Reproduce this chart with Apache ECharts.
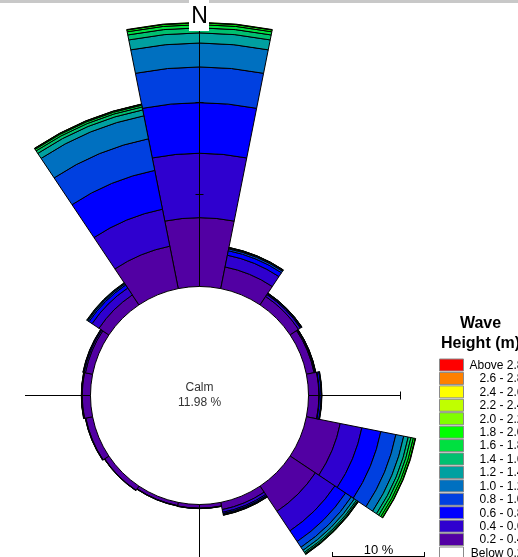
<!DOCTYPE html>
<html><head><meta charset="utf-8">
<script src="https://cdn.jsdelivr.net/npm/echarts@6/dist/echarts.min.js"></script>
<style>html,body{margin:0;padding:0;background:#fff;overflow:hidden}#c{width:518px;height:557px}</style>
</head><body><div id="c"></div>
<script>
// ---- data ----
const directions = ['N','NNE','NE','ENE','E','ESE','SE','SSE','S','SSW','SW','WSW','W','WNW','NW','NNW'];
const binLabels = ['0.2 - 0.4','0.4 - 0.6','0.6 - 0.8','0.8 - 1.0','1.0 - 1.2','1.2 - 1.4','1.4 - 1.6','1.6 - 1.8','1.8 - 2.0','2.0 - 2.2','2.2 - 2.4','2.4 - 2.6','2.6 - 2.8','Above 2.8'];
const belowLabel = 'Below 0.2';
// percent frequency per direction (N ... NNW)
const h02_04 = [7.48, 2.40, 1.10, 0.85, 1.13, 3.75, 3.30, 0.80, 0.40, 0.36, 0.55, 0.75, 0.90, 0.80, 1.30, 4.70];
const h04_06 = [7.00, 1.30, 0.25, 0.10, 0.05, 2.40, 2.55, 0.30, 0.03, 0.03, 0.03, 0.05, 0.05, 0.15, 0.90, 4.10];
const h06_08 = [5.50, 0.50, 0.10, 0.05, 0.20, 2.10, 1.40, 0.15, 0.02, 0.02, 0.02, 0.02, 0.03, 0.10, 0.40, 4.30];
const h08_10 = [3.88, 0.20, 0.05, 0.03, 0.05, 1.67, 0.75, 0.10, null, null, null, null, 0.02, 0.03, 0.15, 3.50];
const h10_12 = [2.60, 0.10, 0.03, 0.02, 0.03, 0.87, 0.40, 0.05, null, null, null, null, null, null, 0.10, 2.55];
const h12_14 = [1.10, 0.05, 0.02, null, null, 0.50, 0.27, 0.03, null, null, null, null, null, null, 0.05, 0.65];
const h14_16 = [0.55, 0.02, null, null, null, 0.30, 0.15, null, null, null, null, null, null, null, null, 0.33];
const h16_18 = [0.35, null, null, null, null, 0.27, 0.08, null, null, null, null, null, null, null, null, 0.20];
const h18_20 = [0.20, null, null, null, null, 0.20, 0.04, null, null, null, null, null, null, null, null, 0.10];
const h20_22 = [0.05, null, null, null, null, 0.05, null, null, null, null, null, null, null, null, null, 0.03];
const h22_24 = [null, null, null, null, null, null, null, null, null, null, null, null, null, null, null, null];
const h24_26 = [null, null, null, null, null, null, null, null, null, null, null, null, null, null, null, null];
const h26_28 = [null, null, null, null, null, null, null, null, null, null, null, null, null, null, null, null];
const h28_up = [null, null, null, null, null, null, null, null, null, null, null, null, null, null, null, null];
const calmPct = '11.98 %';
const scaleTick = 10; // percent

// ---- style ----
const binColors = ['#5200a3','#2f00cf','#0000ff','#0040e0','#0070c0','#00a0a0','#00c070','#00e040','#00ff00','#80ff00','#c0ff00','#ffff00','#ff8000','#ff0000'];
const binData = [h02_04,h04_06,h06_08,h08_10,h10_12,h12_14,h14_16,h16_18,h18_20,h20_22,h22_24,h24_26,h26_28,h28_up];
const cx = 199.5, cy = 395.5, r0 = 109, pxPerPct = 9.2, maxPct = 30;
const font = '"Liberation Sans", Arial, sans-serif';

const chart = echarts.init(document.getElementById('c'), null, {renderer:'canvas'});

const series = binData.map((d, i) => ({
  type:'bar', coordinateSystem:'polar', stack:'wave', name:binLabels[i], data:d,
  barCategoryGap:'0%', silent:true, animation:false,
  itemStyle:{color:binColors[i], borderColor:'#000', borderWidth:1}
}));

const tickR = k => r0 + scaleTick * k * pxPerPct;
const L = (x1,y1,x2,y2) => ({type:'line', z:100, silent:true, shape:{x1,y1,x2,y2}, style:{stroke:'#000', lineWidth:1}});

const g = [];
g.push({type:'rect', z:90, shape:{x:0,y:0,width:518,height:3}, style:{fill:'#c8c8c8'}});
// cross axes
g.push(L(cx, 30, cx, cy - r0));
g.push(L(cx, cy + r0, cx, 557));
g.push(L(25, cy, cx - r0, cy));
g.push(L(cx + r0, cy, cx + tickR(1), cy));
[1,2].forEach(k => g.push(L(cx - 4, cy - tickR(k), cx + 4, cy - tickR(k))));
g.push(L(cx + tickR(1), cy - 4, cx + tickR(1), cy + 4));
// N label
g.push({type:'rect', z:110, shape:{x:189,y:0,width:20,height:31}, style:{fill:'#fff'}});
g.push({type:'text', z:111, style:{text:'N', x:cx, y:17, align:'center', verticalAlign:'middle', font:'23px ' + font, fill:'#000'}});
// calm text
g.push({type:'text', z:111, style:{text:'Calm', x:cx, y:388, align:'center', verticalAlign:'middle', font:'12px ' + font, fill:'#333'}});
g.push({type:'text', z:111, style:{text:calmPct, x:cx, y:403, align:'center', verticalAlign:'middle', font:'12px ' + font, fill:'#333'}});
// scale bar
const sbx0 = 332.5, sbx1 = sbx0 + scaleTick * pxPerPct;
g.push(L(sbx0, 556.5, sbx1, 556.5));
g.push(L(sbx0, 552, sbx0, 557));
g.push(L(sbx1, 552, sbx1, 557));
g.push({type:'text', z:111, style:{text:scaleTick + ' %', x:(sbx0+sbx1)/2, y:550, align:'center', verticalAlign:'middle', font:'13px ' + font, fill:'#000'}});
// legend
g.push({type:'text', z:111, style:{text:'Wave', x:480.5, y:324, align:'center', verticalAlign:'middle', font:'bold 16px ' + font, fill:'#000'}});
g.push({type:'text', z:111, style:{text:'Height (m)', x:480.5, y:344, align:'center', verticalAlign:'middle', font:'bold 16px ' + font, fill:'#000'}});
const legLabels = binLabels.slice().reverse().concat([belowLabel]);
const legColors = binColors.slice().reverse().concat(['#ffffff']);
legLabels.forEach((lab, i) => {
  const y = 359 + i * 13.43;
  g.push({type:'rect', z:111, shape:{x:439.5,y:y,width:24,height:12}, style:{fill:legColors[i], stroke:'#8a8a8a', lineWidth:1}});
  g.push({type:'text', z:111, style:{text:lab, x:523.5, y:y + 6.5, align:'right', verticalAlign:'middle', font:'12px ' + font, fill:'#000'}});
});

chart.setOption({
  animation:false,
  backgroundColor:'#fff',
  polar:{center:[cx, cy], radius:[r0, r0 + maxPct * pxPerPct]},
  angleAxis:{type:'category', data:directions, startAngle:101.25, clockwise:true, boundaryGap:true,
    axisLine:{show:false}, axisTick:{show:false}, axisLabel:{show:false}, splitLine:{show:false}},
  radiusAxis:{type:'value', min:0, max:maxPct,
    axisLine:{show:false}, axisTick:{show:false}, axisLabel:{show:false}, splitLine:{show:false}},
  series:series,
  graphic:g
});
</script></body></html>
